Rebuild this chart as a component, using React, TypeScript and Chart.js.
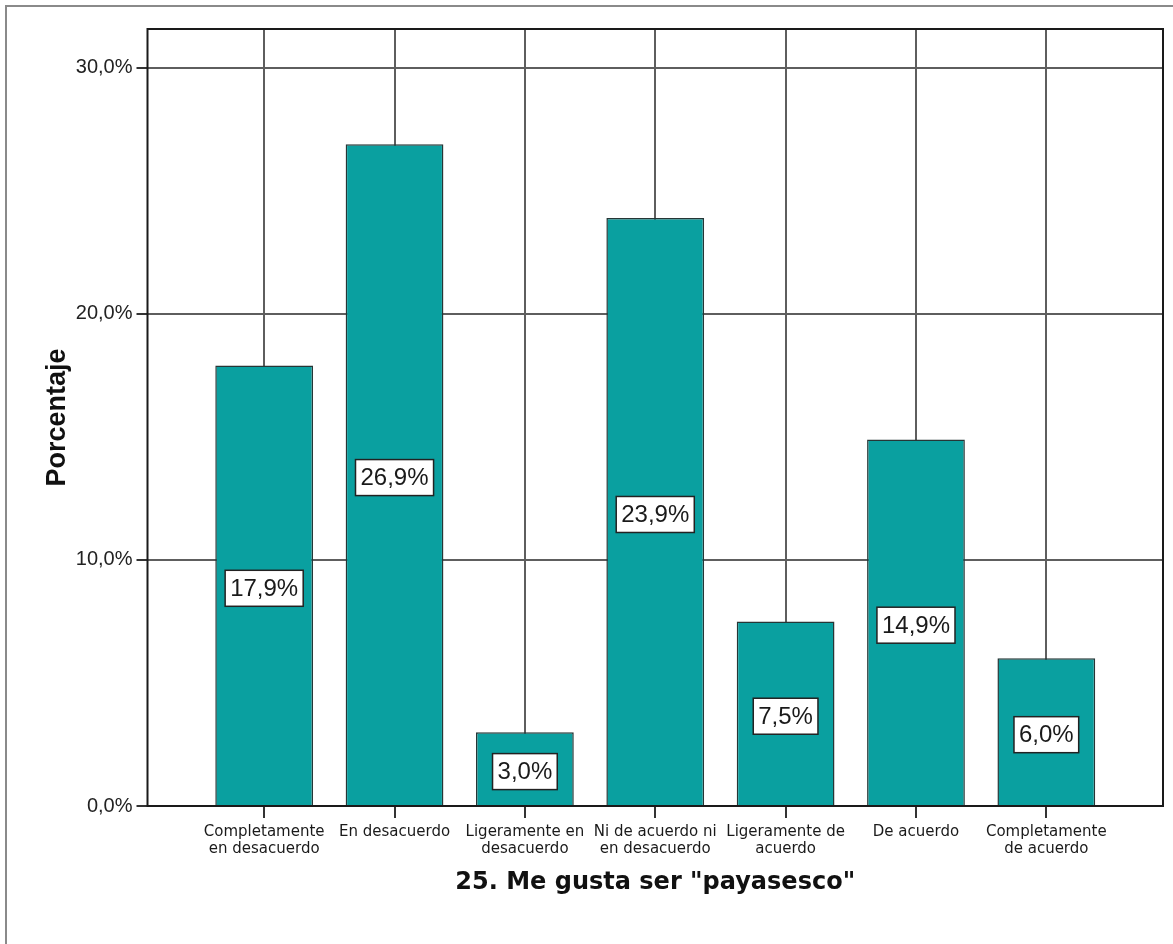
import React, { useEffect, useRef } from "react";
import { Chart, registerables } from "chart.js";

Chart.register(...registerables);

const categories: string[][] = [
  ["Completamente", "en desacuerdo"],
  ["En desacuerdo"],
  ["Ligeramente en", "desacuerdo"],
  ["Ni de acuerdo ni", "en desacuerdo"],
  ["Ligeramente de", "acuerdo"],
  ["De acuerdo"],
  ["Completamente", "de acuerdo"],
];
const percentages: number[] = [17.9, 26.9, 3.0, 23.9, 7.5, 14.9, 6.0];
const yTicks: number[] = [0, 10, 20, 30];
const xTitle = '25. Me gusta ser "payasesco"';
const yTitle = "Porcentaje";

const fmt = (v: number) => v.toFixed(1).replace(".", ",") + "%";

const framePlugin = {
  id: "frame",
  beforeDraw(chart: any) {
    const ctx = chart.ctx;
    ctx.save();
    ctx.fillStyle = "#ffffff";
    ctx.fillRect(0, 0, chart.width, chart.height);
    ctx.strokeStyle = "#8a8a8a";
    ctx.lineWidth = 2;
    ctx.beginPath();
    ctx.moveTo(6, chart.height);
    ctx.lineTo(6, 6);
    ctx.lineTo(chart.width, 6);
    ctx.stroke();
    ctx.restore();
  },
  afterDatasetsDraw(chart: any) {
    const ctx = chart.ctx;
    const a = chart.chartArea;
    ctx.save();
    ctx.strokeStyle = "#1a1a1a";
    ctx.lineWidth = 2;
    ctx.strokeRect(a.left, a.top, a.right - a.left, a.bottom - a.top);
    // data labels
    const meta = chart.getDatasetMeta(0);
    ctx.font = '24px "Liberation Sans", Arial, sans-serif';
    ctx.textAlign = "center";
    ctx.textBaseline = "middle";
    meta.data.forEach((bar: any, i: number) => {
      const text = fmt(percentages[i]);
      const cx = bar.x;
      const cy = (bar.y + bar.base) / 2 + 3;
      const w = ctx.measureText(text).width + 10;
      const h = 36;
      ctx.fillStyle = "#ffffff";
      ctx.fillRect(cx - w / 2, cy - h / 2, w, h);
      ctx.strokeStyle = "#222222";
      ctx.lineWidth = 1.5;
      ctx.strokeRect(cx - w / 2, cy - h / 2, w, h);
      ctx.fillStyle = "#1a1a1a";
      ctx.fillText(text, cx, cy + 1);
    });
    ctx.restore();
  },
};

export default function App() {
  const ref = useRef<HTMLCanvasElement | null>(null);
  useEffect(() => {
    if (!ref.current) return;
    const chart = new Chart(ref.current, {
      type: "bar",
      data: {
        datasets: [
          {
            data: percentages.map((y, i) => ({ x: i + 1, y })),
            backgroundColor: "#0aa0a0",
            borderColor: "#263636",
            borderWidth: 1.5,
            categoryPercentage: 1,
            barPercentage: 0.75,
          },
        ],
      },
      options: {
        animation: false,
        responsive: false,
        devicePixelRatio: 1,
        layout: { padding: { top: 29, right: 10, left: 0, bottom: 0 } },
        plugins: { legend: { display: false }, tooltip: { enabled: false } },
        scales: {
          x: {
            type: "linear",
            min: 0.105,
            max: 7.895,
            offset: false,
            afterBuildTicks: (s: any) => {
              s.ticks = categories.map((_, i) => ({ value: i + 1 }));
            },
            afterFit: (s: any) => {
              s.height = 944 - 806;
            },
            grid: {
              offset: false,
              color: "#5e5e5e",
              lineWidth: 2,
              drawTicks: true,
              tickLength: 12,
              tickColor: "#333333",
            },
            border: { display: false },
            ticks: {
              autoSkip: false,
              maxRotation: 0,
              padding: 6,
              color: "#1a1a1a",
              font: { family: '"DejaVu Sans", sans-serif', size: 15, lineHeight: 1.1 },
              callback: (v: any) => categories[Math.round(Number(v)) - 1] || "",
            },
            title: {
              display: true,
              text: xTitle,
              color: "#111111",
              font: { family: '"DejaVu Sans", sans-serif', size: 24, weight: "bold", lineHeight: 1.2 },
              padding: { top: 0, bottom: 47 },
            },
          },
          y: {
            type: "linear",
            min: 0,
            max: 31.58,
            afterBuildTicks: (s: any) => {
              s.ticks = yTicks.map((v) => ({ value: v }));
            },
            afterFit: (s: any) => {
              s.width = 147.5;
            },
            grid: {
              color: "#5e5e5e",
              lineWidth: 2,
              drawTicks: true,
              tickLength: 11,
              tickColor: "#333333",
            },
            border: { display: false },
            ticks: {
              padding: 4,
              color: "#222222",
              font: { family: '"Liberation Sans", Arial, sans-serif', size: 20 },
              callback: (v: any) => fmt(Number(v)),
            },
            title: {
              display: true,
              text: yTitle,
              color: "#111111",
              font: { family: '"Liberation Sans", Arial, sans-serif', size: 27, weight: "bold", lineHeight: 1.2 },
              padding: { top: 41, bottom: 0 },
            },
          },
        },
      },
      plugins: [framePlugin],
    } as any);
    return () => chart.destroy();
  }, []);
  return (
    <div style={{ position: "absolute", left: 0, top: 0, width: 1173, height: 944 }}>
      <canvas ref={ref} width={1173} height={944} style={{ display: "block", width: 1173, height: 944 }} />
    </div>
  );
}
